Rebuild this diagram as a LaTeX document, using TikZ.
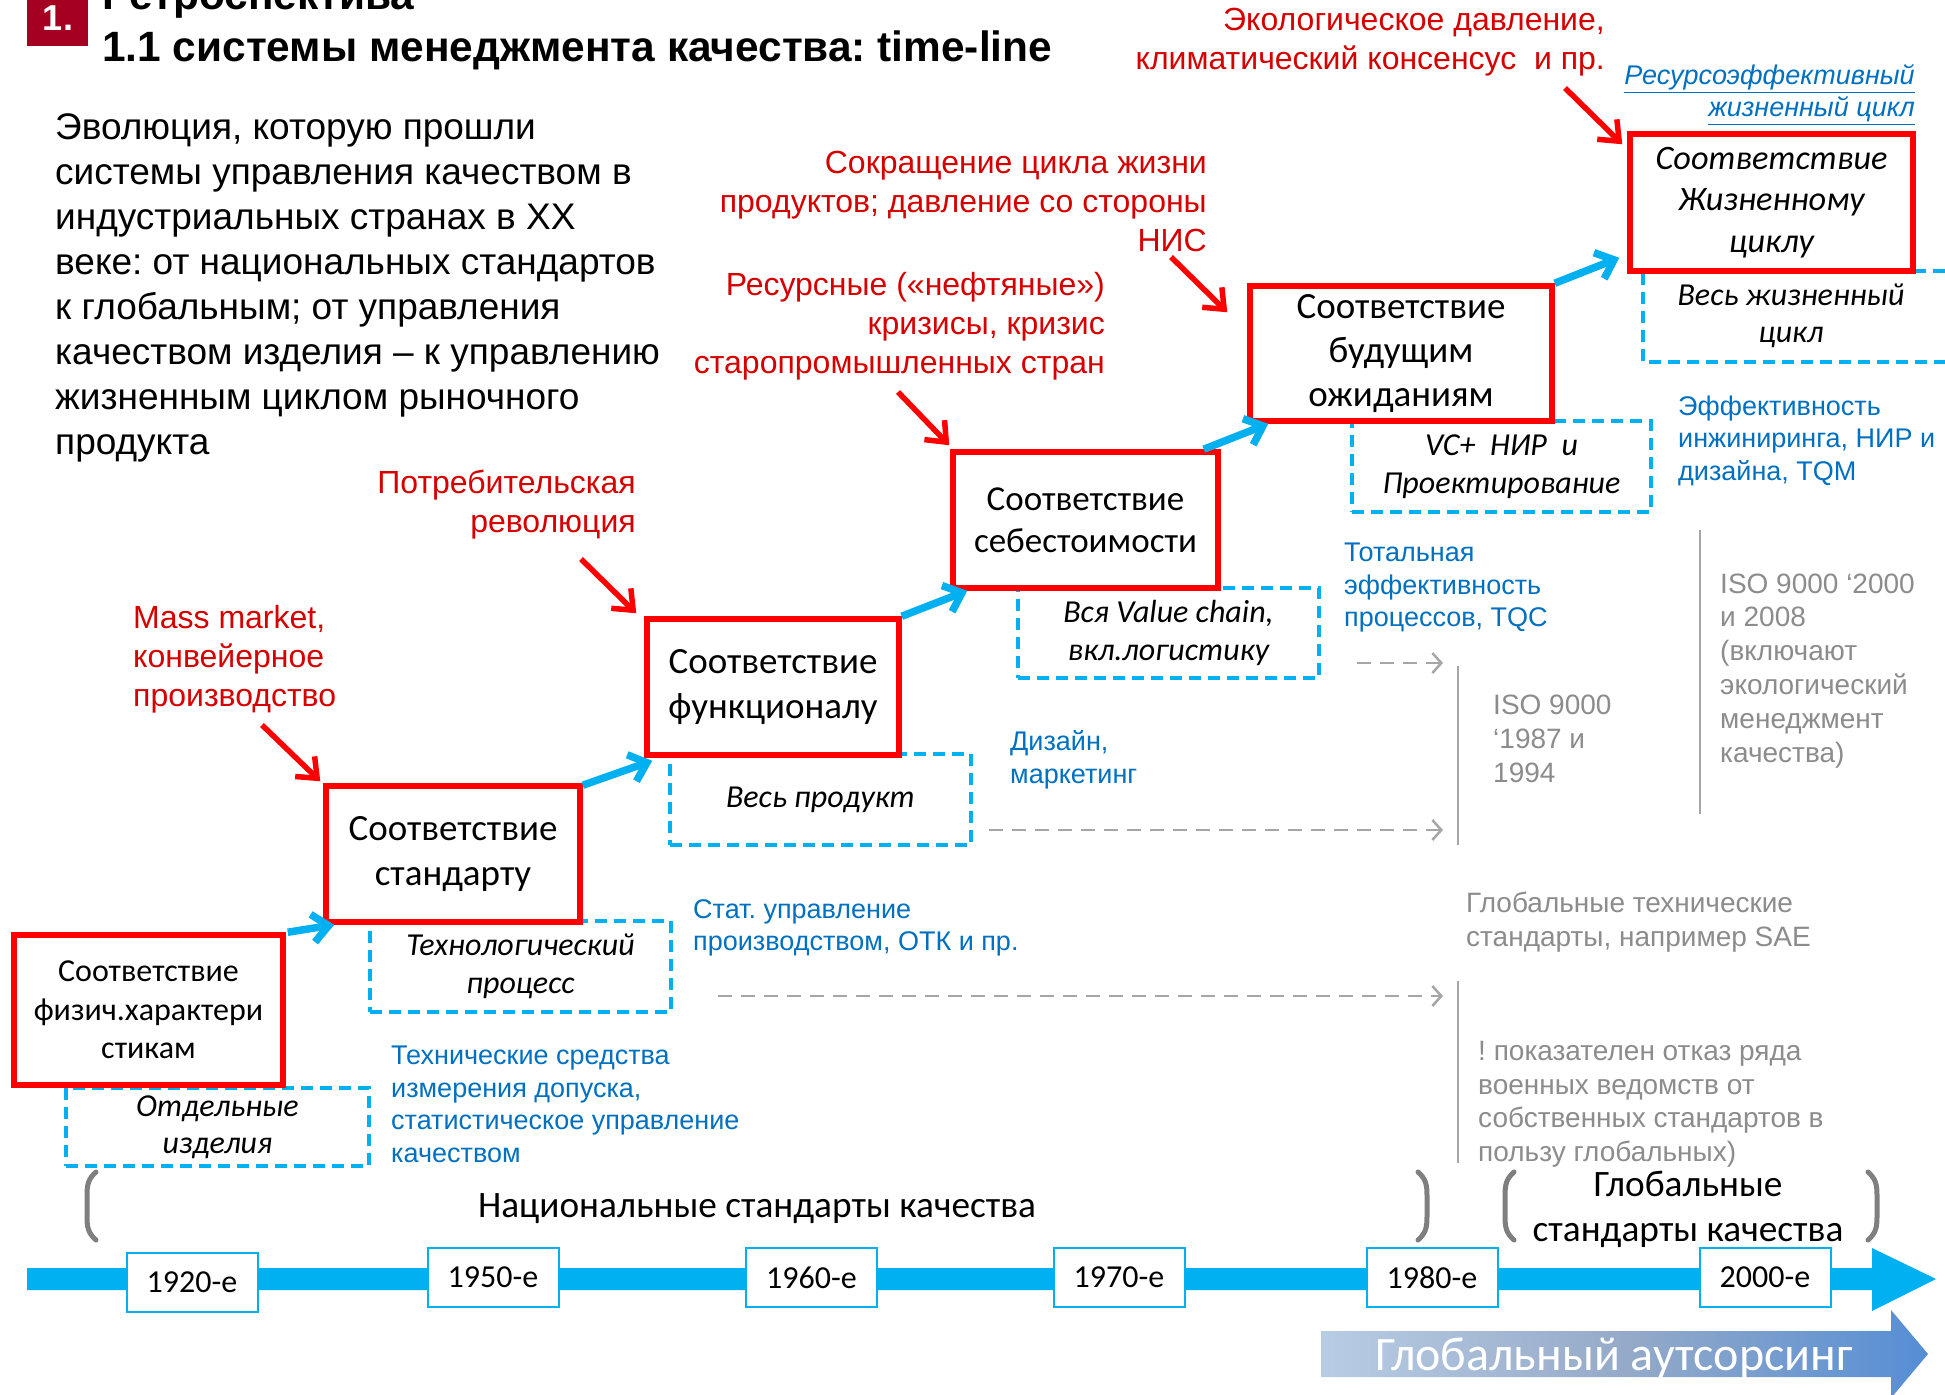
\documentclass[tikz,border=0pt]{standalone}
\usepackage{fontspec}
\setmainfont{Liberation Sans}
\newfontfamily\calib{Carlito}
\usetikzlibrary{arrows.meta,calc}
\frenchspacing
\definecolor{cyanq}{RGB}{0,176,240}
\definecolor{boxred}{RGB}{255,0,0}
\definecolor{txtred}{RGB}{214,0,0}
\definecolor{txtblue}{RGB}{0,112,192}
\definecolor{txtgray}{RGB}{140,140,140}
\definecolor{linegray}{RGB}{166,166,166}
\definecolor{brgray}{RGB}{127,127,127}
\definecolor{titlered}{RGB}{165,0,33}
\definecolor{outl}{RGB}{184,204,228}
\definecolor{outm}{RGB}{149,170,200}
\definecolor{outr}{RGB}{85,142,213}
\tikzset{
  redbox/.style={draw=boxred, line width=5.5pt, fill=white, inner sep=0pt, align=center, font=\calib\fontsize{37}{44.7}\selectfont},
  dashbox/.style={draw=cyanq, line width=4pt, dash pattern=on 12pt off 7pt, inner sep=0pt, align=center, font=\calib\itshape\fontsize{32}{38.5}\selectfont},
  yearbox/.style={draw=cyanq, line width=2pt, fill=white, inner sep=0pt, minimum width=131pt, minimum height=59pt, font=\calib\fontsize{32}{32}\selectfont},
  bluearrow/.style={cyanq, line width=7.5pt, -{Straight Barb[length=16pt,width=28pt]}},
  redarrow/.style={boxred, line width=5.5pt, -{Straight Barb[length=17pt,width=28pt]}},
  grayarrow/.style={linegray, line width=2.5pt, dash pattern=on 14pt off 9pt, -{Straight Barb[length=9pt,width=20pt]}},
  vline/.style={linegray, line width=2.5pt},
  bracket/.style={brgray, line width=5pt, line cap=round},
  redtxt/.style={txtred, inner sep=0pt, font=\fontsize{32}{39}\selectfont},
  bluetxt/.style={txtblue, inner sep=0pt, align=left, anchor=base west, font=\fontsize{27}{32.5}\selectfont},
  graytxt/.style={txtgray, inner sep=0pt, align=left, anchor=base west, font=\fontsize{28}{34}\selectfont},
}
\begin{document}
\frenchspacing
\begin{tikzpicture}[x=1pt,y=-1pt]
\useasboundingbox (0,0) rectangle (1945,1394);
\fill[white] (0,0) rectangle (1945,1394);

% title
\fill[titlered] (27,0) rectangle (88,46);
\node[white, inner sep=0pt, anchor=base, font=\bfseries\fontsize{36}{36}\selectfont] (num) at (58,31) {1.};
\node[inner sep=0pt, anchor=base west, font=\bfseries\fontsize{42.4}{42.4}\selectfont] (title0) at (102,10) {Ретроспектива};
\node[inner sep=0pt, anchor=base west, font=\bfseries\fontsize{42.4}{42.4}\selectfont] (title) at (102,62) {1.1 системы менеджмента качества: time-line};

% paragraph (base = last line)
\node[anchor=base west, align=left, inner sep=0pt, font=\fontsize{37}{45}\selectfont] (para) at (55,454) {Эволюция, которую прошли\\системы управления качеством в\\индустриальных странах в XX\\веке: от национальных стандартов\\к глобальным; от управления\\качеством изделия – к управлению\\жизненным циклом рыночного\\продукта};

% dashed boxes
\node[dashbox, minimum width=303pt, minimum height=78pt, font=\calib\itshape\fontsize{32}{37.3}\selectfont] (d1) at (217.5,1127) {Отдельные\\изделия};
\node[dashbox, minimum width=301pt, minimum height=91pt] (d2) at (520.5,966.5) {Технологический\\процесс};
\node[dashbox, minimum width=301pt, minimum height=91pt] (d3) at (820.5,799.5) {Весь продукт};
\node[dashbox, minimum width=301pt, minimum height=90pt] (d4) at (1168.5,633) {Вся Value chain,\\вкл.логистику};
\node[dashbox, minimum width=299pt, minimum height=91pt] (d5) at (1501.5,466.5) {VC+~ НИР~ и\\Проектирование};
\draw[draw=cyanq, line width=4pt, dash pattern=on 12pt off 7pt] (1945,271) -- (1643,271) -- (1643,362) -- (1945,362);
\node[inner sep=0pt, align=center, font=\calib\itshape\fontsize{32}{37.3}\selectfont] (d6) at (1791,316) {Весь жизненный\\цикл};

% red boxes
\node[redbox, minimum width=269pt, minimum height=150pt, font=\calib\fontsize{32}{38.5}\selectfont] (b1) at (148.5,1010) {Соответствие\\физич.характери\\стикам};
\node[redbox, minimum width=254pt, minimum height=136pt] (b2) at (453,854) {Соответствие\\стандарту};
\node[redbox, minimum width=252pt, minimum height=136pt] (b3) at (773,687) {Соответствие\\функционалу};
\node[redbox, minimum width=265pt, minimum height=136pt, font=\calib\fontsize{35}{42.2}\selectfont] (b4) at (1085.5,520) {Соответствие\\себестоимости};
\node[redbox, minimum width=302pt, minimum height=135pt, font=\calib\fontsize{37}{44}\selectfont] (b5) at (1401,353.5) {Соответствие\\будущим\\ожиданиям};
\node[redbox, minimum width=283pt, minimum height=137pt, font=\calib\itshape\fontsize{34.3}{41.6}\selectfont] (b6) at (1771.5,202.5) {Соответствие\\Жизненному\\циклу};

% blue arrows between steps
\draw[bluearrow] ($(b1.north east)+(2,0)$) -- ($(b2.south west)+(11,0)$);
\draw[bluearrow] ($(b2.north east)+(0,2)$) -- ($(b3.south west)+(8,3)$);
\draw[bluearrow] ($(b3.north east)+(0,0)$) -- ($(b4.south west)+(17,0)$);
\draw[bluearrow] ($(b4.north east)+(-17,0)$) -- ($(b5.south west)+(21,0)$);
\draw[bluearrow] ($(b5.north east)+(0,0)$) -- ($(b6.south west)+(-8,-16)$);

% red labels (base = last line) and arrows
\node[redtxt, anchor=base west, align=left] (lmass) at (133,706) {Mass market,\\конвейерное\\производство};
\node[redtxt, anchor=base east, align=right] (lcons) at (636,532) {Потребительская\\революция};
\node[redtxt, anchor=base east, align=right] (lres) at (1105,373.5) {Ресурсные («нефтяные»)\\кризисы, кризис\\старопромышленных стран};
\node[redtxt, anchor=base east, align=right] (lcut) at (1207,251) {Сокращение цикла жизни\\продуктов; давление со стороны\\НИС};
\node[redtxt, anchor=base east, align=right] (leco) at (1605,69.5) {Экологическое давление,\\климатический консенсус~ и пр.};
\coordinate (r1) at (262,725);
\coordinate (r2) at (581,559);
\coordinate (r3) at (898,392);
\coordinate (r4) at (1171,257);
\coordinate (r5) at (1565,88);
\draw[redarrow] (r1) -- ($(b2.north west)+(-3,-2)$);
\draw[redarrow] (r2) -- ($(b3.north west)+(-8,-3)$);
\draw[redarrow] (r3) -- ($(b4.north west)+(-1,-4)$);
\draw[redarrow] (r4) -- ($(b5.north west)+(-20,29)$);
\draw[redarrow] (r5) -- ($(b6.north west)+(-5,13)$);

% link text
\node[txtblue, inner sep=0pt, anchor=base east, align=right, font=\itshape\fontsize{27}{32}\selectfont] (link) at (1915,117) {\underline{Ресурсоэффективный}\\\underline{жизненный цикл}};

% blue notes (base = last line)
\node[bluetxt] (n1) at (1678,480) {Эффективность\\инжиниринга, НИР и\\дизайна, TQM};
\node[bluetxt] (n2) at (1344,626.5) {Тотальная\\эффективность\\процессов, TQC};
\node[bluetxt] (n3) at (1010,783) {Дизайн,\\маркетинг};
\node[bluetxt] (n4) at (693,950.5) {Стат. управление\\производством, ОТК и пр.};
\node[bluetxt] (n5) at (391,1162) {Технические средства\\измерения допуска,\\статистическое управление\\качеством};

% gray notes (base = last line)
\node[graytxt] (g1) at (1493,782) {ISO 9000\\‘1987 и\\1994};
\node[graytxt, font=\fontsize{28}{33.8}\selectfont] (g2) at (1720,762) {ISO 9000 ‘2000\\и 2008\\(включают\\экологический\\менеджмент\\качества)};
\node[graytxt] (g3) at (1466,946) {Глобальные технические\\стандарты, например SAE};
\node[graytxt, font=\fontsize{28}{33.5}\selectfont] (g4) at (1478,1161) {! показателен отказ ряда\\военных ведомств от\\собственных стандартов в\\пользу глобальных)};

% gray vertical lines
\draw[vline] (1458,666) -- (1458,845);
\draw[vline] (1700,530) -- (1700,814);
\draw[vline] (1458,981) -- (1458,1163);

% gray dashed arrows
\coordinate (ga1) at (1357,663); \coordinate (ga1e) at (1443,663);
\coordinate (ga2) at (989,830);  \coordinate (ga2e) at (1443,830);
\coordinate (ga3) at (718,996);  \coordinate (ga3e) at (1443,996);
\draw[grayarrow] (ga1) -- (ga1e);
\draw[grayarrow] (ga2) -- (ga2e);
\draw[grayarrow] (ga3) -- (ga3e);

% brackets
\draw[bracket] (96,1172) .. controls (88,1179) and (87,1185) .. (87,1196) -- (87,1216) .. controls (87,1227) and (88,1233) .. (96,1240);
\draw[bracket] (1418,1172) .. controls (1426,1179) and (1427,1185) .. (1427,1196) -- (1427,1216) .. controls (1427,1227) and (1426,1233) .. (1418,1240);
\draw[bracket] (1514,1172) .. controls (1506,1179) and (1505,1185) .. (1505,1196) -- (1505,1216) .. controls (1505,1227) and (1506,1233) .. (1514,1240);
\draw[bracket] (1868,1172) .. controls (1876,1179) and (1877,1185) .. (1877,1196) -- (1877,1216) .. controls (1877,1227) and (1876,1233) .. (1868,1240);
\node[inner sep=0pt, anchor=base, font=\calib\fontsize{37.3}{37.3}\selectfont] (nat) at (757,1217) {Национальные стандарты качества};
\node[inner sep=0pt, anchor=base, align=center, font=\calib\fontsize{37.3}{44.7}\selectfont] (glob) at (1688,1241) {Глобальные\\стандарты качества};

% timeline
\fill[cyanq] (27,1268) -- (1872,1268) -- (1872,1248) -- (1936,1279) -- (1872,1311) -- (1872,1290) -- (27,1290) -- cycle;
\node[yearbox] (y1) at (192,1282.5) {1920-е};
\node[yearbox] (y2) at (493,1277.5) {1950-е};
\node[yearbox] (y3) at (811.5,1277.5) {1960-е};
\node[yearbox] (y4) at (1119,1277.5) {1970-е};
\node[yearbox] (y5) at (1432,1277.5) {1980-е};
\node[yearbox] (y6) at (1765,1277.5) {2000-е};

% outsourcing arrow
\shade[left color=outl, right color=outr, middle color=outm] (1321,1331) -- (1891,1331) -- (1891,1310) -- (1928,1354) -- (1891,1398) -- (1891,1377) -- (1321,1377) -- cycle;
\node[white, inner sep=0pt, anchor=base, font=\calib\fontsize{48}{48}\selectfont] (outs) at (1614,1370) {Глобальный аутсорсинг};
\end{tikzpicture}
\end{document}
